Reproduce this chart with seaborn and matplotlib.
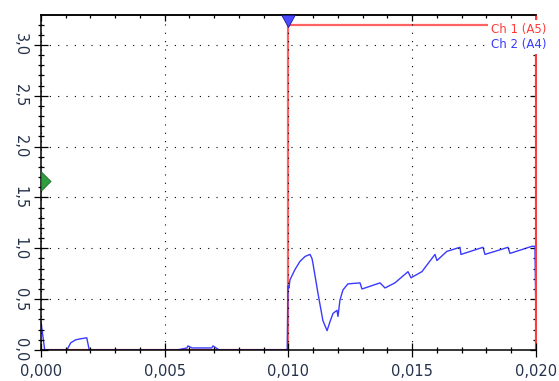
import matplotlib
matplotlib.use("Agg")
import matplotlib.pyplot as plt
from matplotlib.ticker import MultipleLocator, FuncFormatter
import seaborn as sns
import pandas as pd

# Channel 1 (A5): digital step
ch1_time = [0.0, 0.00998, 0.00998, 0.0200, 0.0200]
ch1_volts = [0.0, 0.0, 3.20, 3.20, 0.0]

# Channel 2 (A4): analog response
ch2_time = [0.0, 0.00015, 0.00105, 0.0012, 0.0014, 0.0016, 0.00185, 0.00195,
            0.0055, 0.0059, 0.00594, 0.0061, 0.0069, 0.00695, 0.0072, 0.00995,
            0.00998, 0.01002, 0.01006, 0.01026, 0.01046, 0.01067, 0.01087, 0.01095,
            0.01099, 0.01119, 0.01139, 0.01156, 0.01168, 0.0118, 0.01196, 0.0120,
            0.01208, 0.0122, 0.0124, 0.01289, 0.01297, 0.0137, 0.0139, 0.0143,
            0.01483, 0.01495, 0.01539, 0.01592, 0.0160, 0.0164, 0.01693, 0.01697,
            0.01786, 0.01794, 0.01887, 0.01895, 0.01984, 0.01996, 0.0200]
ch2_volts = [0.28, 0.0, 0.0, 0.07, 0.10, 0.11, 0.12, 0.0,
             0.0, 0.02, 0.04, 0.02, 0.02, 0.04, 0.0, 0.0,
             0.63, 0.61, 0.69, 0.79, 0.87, 0.92, 0.94, 0.90,
             0.85, 0.56, 0.29, 0.19, 0.28, 0.36, 0.39, 0.33,
             0.49, 0.59, 0.65, 0.66, 0.60, 0.66, 0.61, 0.66,
             0.77, 0.71, 0.77, 0.94, 0.88, 0.97, 1.01, 0.94,
             1.01, 0.94, 1.01, 0.95, 1.02, 1.02, 0.30]

series_labels = ["Ch 1 (A5)", "Ch 2 (A4)"]
trigger_level = 1.66
trigger_time = 0.010

RED = "#ff3b3b"
BLUE = "#3a3aff"
LABEL_COLOR = "#24324a"

sns.set_theme(style="white")
plt.rcParams["font.family"] = ["DejaVu Sans"]

fig = plt.figure(figsize=(5.59, 3.81), dpi=100)
ax = fig.add_axes([0.0733, 0.0814, 0.8855, 0.8793])
ax.set_facecolor("white")

ch1 = pd.DataFrame({"t": ch1_time, "v": ch1_volts})
ch2 = pd.DataFrame({"t": ch2_time, "v": ch2_volts})

sns.lineplot(data=ch1, x="t", y="v", ax=ax, color=RED, lw=1.6, alpha=0.8,
             estimator=None, sort=False, label=series_labels[0], zorder=2)
sns.lineplot(data=ch2, x="t", y="v", ax=ax, color=BLUE, lw=1.0,
             estimator=None, sort=False, label=series_labels[1], zorder=2)

ax.set_xlim(0, 0.020)
ax.set_ylim(0, 3.295)
ax.set_xlabel("")
ax.set_ylabel("")

ax.xaxis.set_major_locator(MultipleLocator(0.005))
ax.xaxis.set_minor_locator(MultipleLocator(0.001))
ax.yaxis.set_major_locator(MultipleLocator(0.5))
ax.yaxis.set_minor_locator(MultipleLocator(0.1))
ax.xaxis.set_major_formatter(FuncFormatter(lambda v, p: f"{v:.3f}".replace(".", ",")))
ax.yaxis.set_major_formatter(FuncFormatter(lambda v, p: f"{v:.1f}".replace(".", ",")))

ax.tick_params(which="major", direction="inout", length=9.4, width=0.9,
               color="black", labelsize=10.5, labelcolor=LABEL_COLOR,
               bottom=True, left=True, top=False, right=False)
ax.tick_params(which="minor", direction="inout", length=5, width=0.9,
               color="black", bottom=True, left=True, top=False, right=False)
ax.tick_params(axis="x", which="major", pad=5.5)
ax.tick_params(axis="y", which="major", pad=5)
plt.setp(ax.get_yticklabels(), rotation=-90, va="center")

# dotted grid drawn over the traces
ax.set_axisbelow(False)
ax.grid(True, which="major", color="black", lw=0.8, linestyle=(0, (1, 6.5)))

for side in ["left", "bottom", "top"]:
    ax.spines[side].set_color("black")
    ax.spines[side].set_linewidth(1.1)
ax.spines["right"].set_color(RED)
ax.spines["right"].set_linewidth(1.4)

# inward ticks on the top and right edges
top = ax.secondary_xaxis("top")
top.xaxis.set_major_locator(MultipleLocator(0.005))
top.xaxis.set_minor_locator(MultipleLocator(0.001))
top.tick_params(which="major", direction="in", length=4, width=0.9, color="black",
                labeltop=False)
top.tick_params(which="minor", direction="in", length=2.5, width=0.9, color="black")
top.spines["top"].set_color("black")
top.spines["top"].set_linewidth(1.1)

right = ax.secondary_yaxis("right")
right.yaxis.set_major_locator(MultipleLocator(0.5))
right.yaxis.set_minor_locator(MultipleLocator(0.1))
right.tick_params(which="major", direction="in", length=4, width=0.9, color="black",
                  labelright=False)
right.tick_params(which="minor", direction="in", length=2.5, width=0.9, color="black")
right.spines["right"].set_color(RED)
right.spines["right"].set_linewidth(1.4)

# trigger level marker (left edge) and trigger time marker (top edge)
ax.plot([0.0], [trigger_level], linestyle="none",
        marker=[(0, 1), (0, -1), (1, 0), (0, 1)], markersize=13.7,
        markerfacecolor="#2e9e3e", markeredgecolor="#1d6b2a", markeredgewidth=0.6,
        clip_on=False, zorder=6)
ax.plot([trigger_time], [ax.get_ylim()[1]], linestyle="none",
        marker=[(-0.55, 0), (0.55, 0), (0, -1), (-0.55, 0)], markersize=17.3,
        markerfacecolor="#4a4aff", markeredgecolor="#1a1a99", markeredgewidth=0.6,
        clip_on=False, zorder=6)

leg = ax.legend(loc="upper right", bbox_to_anchor=(549 / 559, 1 - 20 / 381),
                bbox_transform=fig.transFigure, borderaxespad=0, borderpad=0.25,
                handlelength=0, handletextpad=0, labelcolor="linecolor",
                frameon=True, fancybox=False, framealpha=1, edgecolor="none",
                facecolor="white", fontsize=8.5, labelspacing=0.2)
leg.set_zorder(10)
for h in leg.legend_handles:
    h.set_visible(False)

fig.savefig("out.png", dpi=100, facecolor="white")
